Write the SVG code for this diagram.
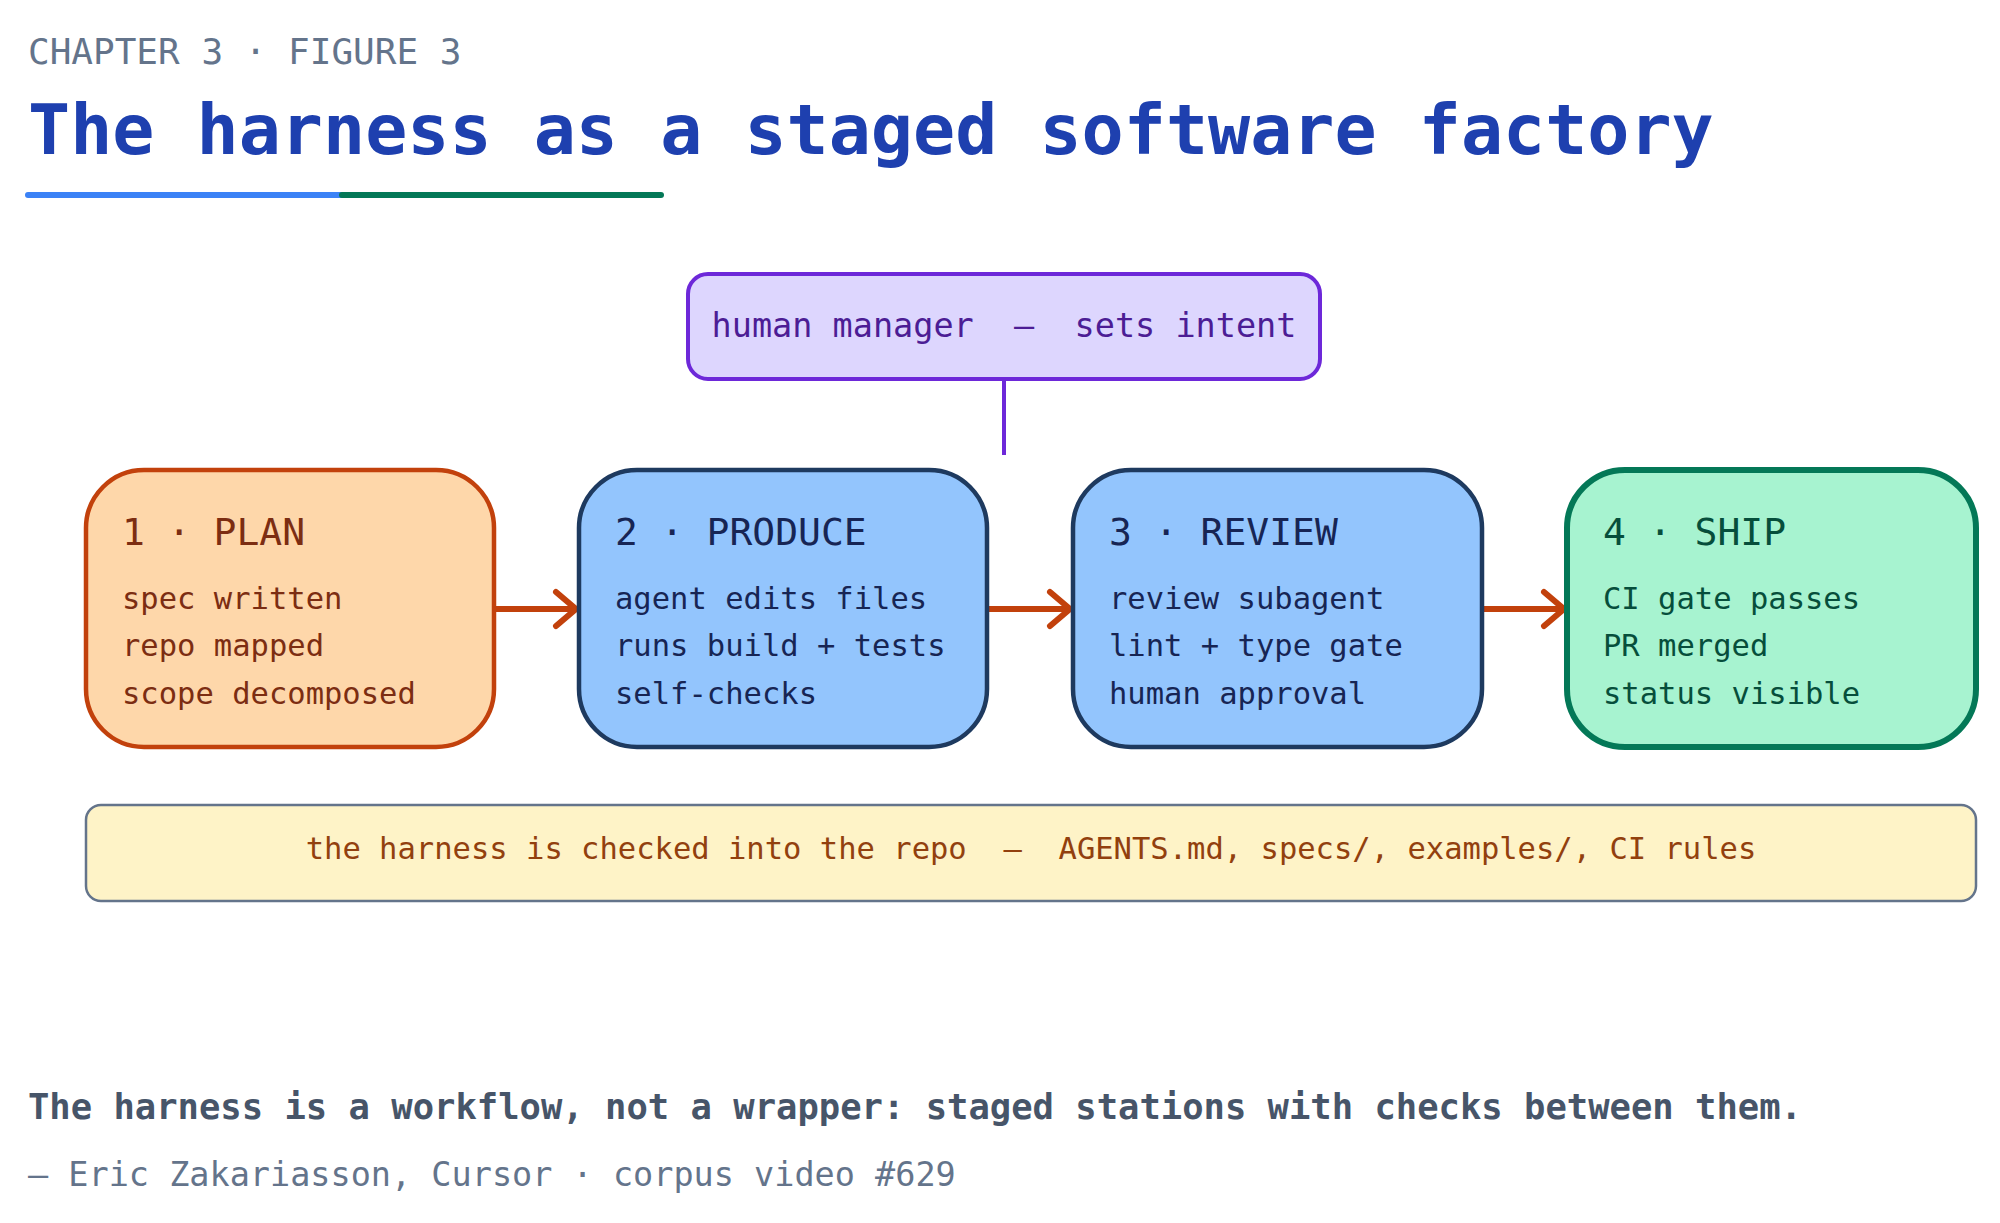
<svg xmlns="http://www.w3.org/2000/svg" width="2000" height="1223" viewBox="0 0 2000 1223">
<style>
text{font-family:"DejaVu Sans Mono","Liberation Mono",monospace}
.st{stroke-width:4.5}
.h{font-size:38px}
.l{font-size:30.5px}
.conn{stroke:#c2410c;stroke-width:6;fill:none}
</style>
<defs>
<marker id="ah" viewBox="0 0 10 10" refX="8" refY="5" markerWidth="5" markerHeight="5" orient="auto" markerUnits="userSpaceOnUse" overflow="visible">
<path d="M-1,-8 L8,5 L-1,18" fill="none" stroke="#c2410c" stroke-width="6" stroke-linecap="round" stroke-linejoin="round" transform="scale(1) translate(0,-3.3) scale(1,0.73)"/>
</marker>
</defs>
<rect width="2000" height="1223" fill="#ffffff"/>
<g id="header">
<text x="28" y="64" font-size="36" fill="#64748b">CHAPTER 3  ·  FIGURE 3</text>
<text x="28" y="154" font-size="70" font-weight="bold" fill="#1e40af">The harness as a staged software factory</text>
<line x1="28" y1="195" x2="342" y2="195" stroke="#3b82f6" stroke-width="6" stroke-linecap="round"/>
<line x1="342" y1="195" x2="661" y2="195" stroke="#047857" stroke-width="6" stroke-linecap="round"/>
</g>
<g id="connectors">
<line x1="1004" y1="379" x2="1004" y2="455" stroke="#6d28d9" stroke-width="4"/>
<path class="conn" d="M494,609 H574"/><path class="conn" d="M556,592 L576,609 L556,626" stroke-linecap="round" stroke-linejoin="round"/>
<path class="conn" d="M987,609 H1068"/><path class="conn" d="M1050,592 L1070,609 L1050,626" stroke-linecap="round" stroke-linejoin="round"/>
<path class="conn" d="M1482,609 H1562"/><path class="conn" d="M1544,592 L1564,609 L1544,626" stroke-linecap="round" stroke-linejoin="round"/>
</g>
<g id="human">
<rect x="688" y="274" width="632" height="105" rx="20" fill="#ddd6fe" stroke="#6d28d9" stroke-width="4"/>
<text x="1004" y="337" font-size="33.5" fill="#4c1d95" text-anchor="middle" xml:space="preserve">human manager  –  sets intent</text>
</g>
<g id="plan">
<rect x="86" y="470" width="408" height="277" rx="58" fill="#fed7aa" stroke="#c2410c" class="st"/>
<text x="122" y="545" class="h" fill="#7c2d12">1 · PLAN</text>
<text x="122" y="609" class="l" fill="#7c2d12">spec written</text>
<text x="122" y="656" class="l" fill="#7c2d12">repo mapped</text>
<text x="122" y="704" class="l" fill="#7c2d12">scope decomposed</text>
</g>
<g id="produce">
<rect x="579" y="470" width="408" height="277" rx="58" fill="#93c5fd" stroke="#1e3a5f" class="st"/>
<text x="615" y="545" class="h" fill="#172554">2 · PRODUCE</text>
<text x="615" y="609" class="l" fill="#172554">agent edits files</text>
<text x="615" y="656" class="l" fill="#172554">runs build + tests</text>
<text x="615" y="704" class="l" fill="#172554">self-checks</text>
</g>
<g id="review">
<rect x="1073" y="470" width="409" height="277" rx="58" fill="#93c5fd" stroke="#1e3a5f" class="st"/>
<text x="1109" y="545" class="h" fill="#172554">3 · REVIEW</text>
<text x="1109" y="609" class="l" fill="#172554">review subagent</text>
<text x="1109" y="656" class="l" fill="#172554">lint + type gate</text>
<text x="1109" y="704" class="l" fill="#172554">human approval</text>
</g>
<g id="ship">
<rect x="1567" y="470" width="409" height="277" rx="58" fill="#a7f3d0" stroke="#047857" stroke-width="6"/>
<text x="1603" y="545" class="h" fill="#064e3b">4 · SHIP</text>
<text x="1603" y="609" class="l" fill="#064e3b">CI gate passes</text>
<text x="1603" y="656" class="l" fill="#064e3b">PR merged</text>
<text x="1603" y="704" class="l" fill="#064e3b">status visible</text>
</g>
<g id="harness">
<rect x="86" y="805" width="1890" height="96" rx="15" fill="#fef3c7" stroke="#64748b" stroke-width="2.5"/>
<text x="1031" y="859" font-size="30.5" fill="#92400e" text-anchor="middle" xml:space="preserve">the harness is checked into the repo  –  AGENTS.md, specs/, examples/, CI rules</text>
</g>
<g id="footer">
<text x="28" y="1119" font-size="35.5" font-weight="bold" fill="#475569">The harness is a workflow, not a wrapper: staged stations with checks between them.</text>
<text x="28" y="1186" font-size="33.5" fill="#64748b">— Eric Zakariasson, Cursor · corpus video #629</text>
</g>
</svg>
